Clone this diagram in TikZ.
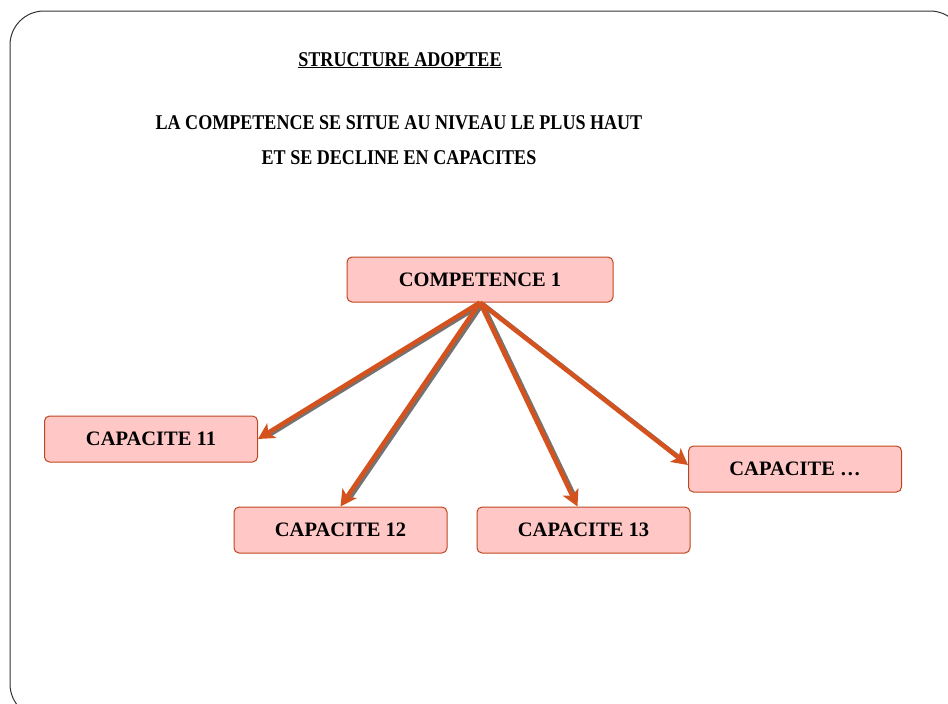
\documentclass[tikz,border=0pt]{standalone}
\usepackage{fontspec}
\setmainfont{Liberation Serif}
\usetikzlibrary{arrows.meta}
\definecolor{rose}{RGB}{255,199,197}
\definecolor{brique}{RGB}{190,70,30}
\definecolor{orangefl}{RGB}{212,82,30}

\begin{document}
\begin{tikzpicture}[x=1pt,y=-1pt,
	boite/.style={draw=brique,fill=rose,rounded corners=5pt,line width=1pt,minimum width=213pt,minimum height=46pt,font=\fontsize{20.5}{24}\selectfont\bfseries},
	titre/.style={anchor=base,inner sep=0pt,font=\fontsize{21}{24}\selectfont\bfseries\addfontfeature{FakeStretch=0.86}},
	fleche/.style={-{Stealth[length=16pt,width=17pt,inset=4pt]},draw=orangefl,line width=4.5pt},
	ombre/.style={draw=black!55,line width=4pt,shorten >=9pt}]
	\useasboundingbox (0,0) rectangle (948,704);
	\clip (0,0) rectangle (948,704);
	\draw[black!80,line width=1pt,rounded corners=34pt] (10,11) rectangle (964,718);
	% titres
	\node[titre] (entete) at (400,66) {\underline{STRUCTURE ADOPTEE}};
	\node[titre] (ligne1) at (399,129.5) {LA COMPETENCE SE SITUE AU NIVEAU LE PLUS HAUT};
	\node[titre] (ligne2) at (399,164) {ET SE DECLINE EN CAPACITES};
	% boites
	\node[boite,minimum width=266pt,minimum height=45pt] (comp) at (480,279.5) {COMPETENCE 1};
	\node[boite] (cap11) at (151,439) {CAPACITE 11};
	\node[boite] (cap12) at (340.5,530) {CAPACITE 12};
	\node[boite] (cap13) at (583.5,530) {CAPACITE 13};
	\node[boite] (capn) at (795,469) {CAPACITE \dots};
	% fleches
	\begin{scope}[transform canvas={shift={(2.8pt,-1.4pt)}}]
	\draw[ombre] (comp.south) -- (cap11.east);
	\draw[ombre] (comp.south) -- (cap12.north);
	\draw[ombre] (comp.south) -- ([xshift=-6pt]cap13.north);
	\draw[ombre] (comp.south) -- ([yshift=4pt]capn.west);
	\end{scope}
	\draw[fleche] (comp.south) -- (cap11.east);
	\draw[fleche] (comp.south) -- (cap12.north);
	\draw[fleche] (comp.south) -- ([xshift=-6pt]cap13.north);
	\draw[fleche] (comp.south) -- ([yshift=4pt]capn.west);
\end{tikzpicture}
\end{document}
